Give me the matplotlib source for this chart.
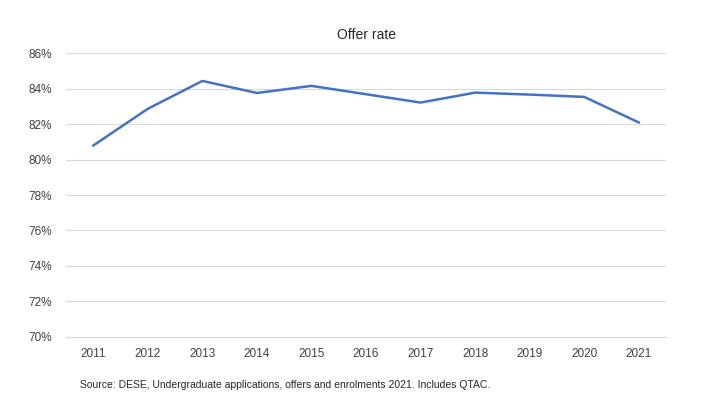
import matplotlib.pyplot as plt
from matplotlib.ticker import FuncFormatter

# data
years = ['2011', '2012', '2013', '2014', '2015', '2016', '2017', '2018', '2019', '2020', '2021']
offer_rate = [80.79, 82.86, 84.43, 83.75, 84.15, 83.68, 83.21, 83.77, 83.66, 83.53, 82.09]

plt.rcParams['font.family'] = ['Liberation Sans', 'DejaVu Sans']

fig = plt.figure(figsize=(7.2, 4.05), dpi=100)
ax = fig.add_axes([0.0917, 0.168, 0.8333, 0.701])

x = range(len(years))
ax.plot(x, offer_rate, color='#4472C4', linewidth=1.8)

ax.set_xlim(-0.5, len(years) - 0.5)
ax.set_ylim(70, 86)
ax.set_yticks(range(70, 87, 2))
ax.yaxis.set_major_formatter(FuncFormatter(lambda v, p: '{:.0f}%'.format(v)))
ax.set_xticks(list(x))
ax.set_xticklabels(years)

ax.grid(axis='y', color='#D9D9D9', linewidth=0.8)
ax.axhline(70, color='#D9D9D9', linewidth=0.8, clip_on=False, zorder=0)
ax.set_axisbelow(True)
for s in ax.spines.values():
    s.set_visible(False)
ax.tick_params(axis='both', length=0, labelsize=8.5, colors='#404040', pad=8)
ax.tick_params(axis='y', pad=10)

ax.set_title('Offer rate', fontsize=10, color='#262626', pad=10)

fig.text(0.111, 0.042, 'Source: DESE, Undergraduate applications, offers and enrolments 2021. Includes QTAC.',
         fontsize=7.5, color='#262626')

fig.savefig('out.png', dpi=100)
